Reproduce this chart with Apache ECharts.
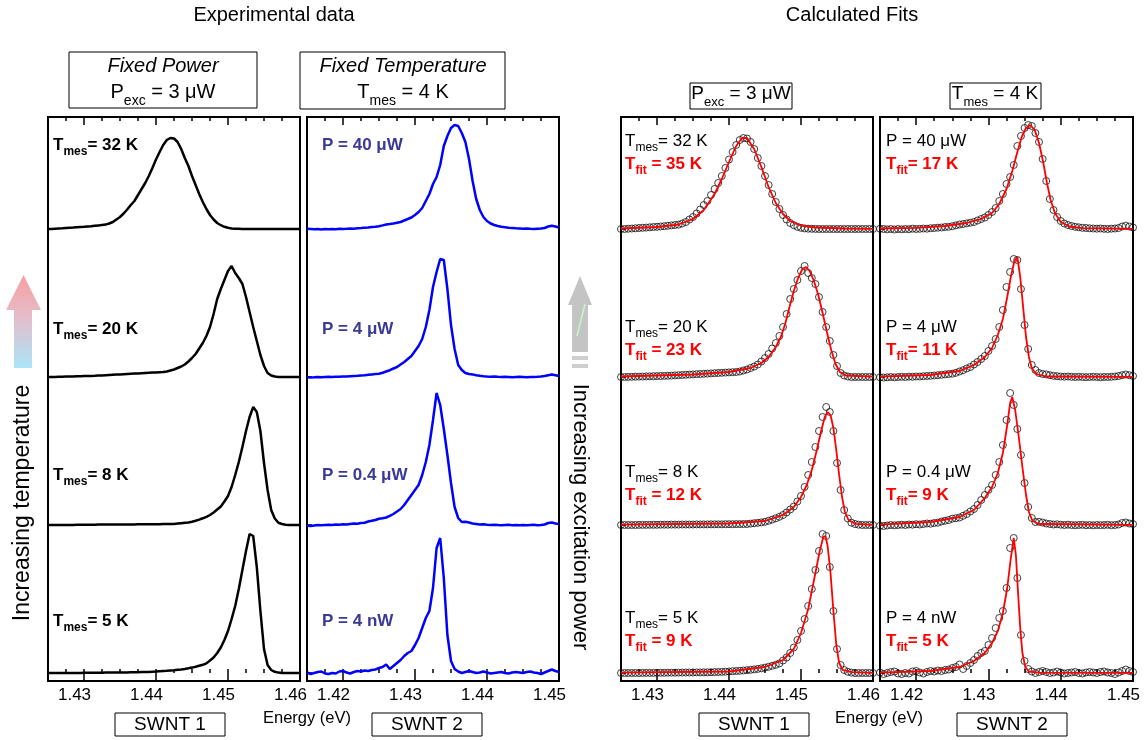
<!DOCTYPE html>
<html><head><meta charset="utf-8">
<script src="https://cdn.jsdelivr.net/npm/echarts@6/dist/echarts.min.js"></script>
<style>html,body{margin:0;padding:0;background:#fff}#chart{width:1147px;height:740px}</style>
</head><body><div id="chart"></div>
<script>
const FONT = '"Liberation Sans", Arial, Helvetica, sans-serif';

// ---------- DATA ----------
const energySWNT1 = [
1.4250,
1.4255,1.4260,1.4265,1.4270,1.4275,1.4280,1.4285,1.4290,1.4295,1.4300,
1.4305,1.4310,1.4315,1.4320,1.4325,1.4330,1.4335,1.4340,1.4345,1.4350,
1.4355,1.4360,1.4365,1.4370,1.4375,1.4380,1.4385,1.4390,1.4395,1.4400,
1.4405,1.4410,1.4415,1.4420,1.4425,1.4430,1.4435,1.4440,1.4445,1.4450,
1.4455,1.4460,1.4465,1.4470,1.4475,1.4480,1.4485,1.4490,1.4495,1.4500,
1.4505,1.4510,1.4515,1.4520,1.4525,1.4530,1.4535,1.4540,1.4545,1.4550,
1.4555,1.4560,1.4565,1.4570,1.4575,1.4580,1.4585,1.4590,1.4595,1.4600];

const energySWNT2 = [
1.4150,
1.4155,1.4160,1.4165,1.4170,1.4175,1.4180,1.4185,1.4190,1.4195,1.4200,
1.4205,1.4210,1.4215,1.4220,1.4225,1.4230,1.4235,1.4240,1.4245,1.4250,
1.4255,1.4260,1.4265,1.4270,1.4275,1.4280,1.4285,1.4290,1.4295,1.4300,
1.4305,1.4310,1.4315,1.4320,1.4325,1.4330,1.4335,1.4340,1.4345,1.4350,
1.4355,1.4360,1.4365,1.4370,1.4375,1.4380,1.4385,1.4390,1.4395,1.4400,
1.4405,1.4410,1.4415,1.4420,1.4425,1.4430,1.4435,1.4440,1.4445,1.4450,
1.4455,1.4460,1.4465,1.4470,1.4475,1.4480,1.4485,1.4490,1.4495,1.4500];

// SWNT 1, fixed power (arb. units)
const swnt1_T32 = [0,
0,0.3,0.5,0.7,1,1.2,1.4,1.7,2,2.2,
2.5,2.8,3.2,3.6,4,4.4,5.5,7,9.5,12,
15.5,19.5,24,28,34,40,46,53,61,69.5,
77,84,89,91,90.5,87,80,71,63,53,
44,35,27,20,14,9.5,6,3.8,2.2,1.2,
0.6,0.3,0.2,0.1,0,0,0,0,0,0,
0,0,0,0,0,0,0,0,0,0];
const swnt1_T20 = [0,
0,0.1,0.2,0.3,0.4,0.5,0.6,0.7,0.8,0.9,
1,1.1,1.2,1.4,1.6,1.8,2,2.2,2.4,2.6,
2.8,3,3.2,3.4,3.6,3.8,4,4.2,4.4,4.6,
4.8,5,5.5,6.5,7.5,9,10.5,12.5,15.5,19,
23,28.5,34,41,50,63,78,88,97,106,
111,104,99,93,80,65,50,36,22,11,
4,1.5,0.5,0,0,0,0,0,0,0];
const swnt1_T8 = [0,
0,0,0,0,0.1,0.1,0.1,0.2,0.2,0.2,
0.3,0.3,0.3,0.4,0.4,0.4,0.5,0.5,0.5,0.5,
0.6,0.6,0.6,0.6,0.7,0.7,0.7,0.7,0.8,0.8,
0.8,0.9,0.9,1,1,1.4,1.8,2.2,2.6,3.2,
4.2,5.4,6.7,8.2,10,12.5,15.5,18.5,23.5,29,
38,50,63,78,94,108,118,113,94,62,
35,15,6.5,2.3,1,0.3,0,0,0,0];
const swnt1_T5 = [0,
0,0,0,0,0,0.1,0.1,0.1,0.1,0.2,
0.2,0.2,0.3,0.3,0.3,0.4,0.4,0.5,0.5,0.5,
0.6,0.6,0.7,0.7,0.8,0.9,1,1.1,1.3,1.5,
1.8,2,2.2,2.5,2.8,3.2,3.6,4.1,4.7,5.4,
6.2,7.2,8.2,9.6,12.5,15.5,20,25.5,33,42,
54,67,84,103,122,139,137,106,62,24,
8,3,1.2,0.4,0,0,0,0,0,0];

// SWNT 2, fixed temperature (arb. units)
const swnt2_P40uW = [0.3,
0,-0.3,0,-0.5,0,-0.3,0,-0.2,0.3,0,
0.2,0.5,0.3,0.8,1,1.3,1.5,2,2.2,2.8,
3.6,4.5,5,5.6,6.3,7,8.5,10,11.5,14,
17,21,28,35,45,52,64,83,93,101,
104,103,96,87,70,48,30,19,12,8,
5.5,4,3,2.2,1.7,1.2,1,0.7,0.5,0.3,
0.5,0.2,0,0.3,0.5,1,2.5,3.3,2.5,1.5];
const swnt2_P4uW = [-0.3,
-0.5,-0.3,0,-0.3,0,0.2,0,0.3,0.2,0.5,
0.5,0.8,1,1.2,1.5,1.8,2.2,2.6,3,3.3,
4.2,5.5,6.8,8.5,10,12.5,15,18,21,26,
31,38,50,67,90,105,118,117,88,52,
28,12,7,4,3,2.6,1.8,1.2,0.8,0.5,
0.3,0.5,0.2,0,0.2,0,-0.2,0,0.2,0,
-0.2,0,0,0.2,0.5,1,1.8,2.5,1.8,1];
const swnt2_P04uW = [-0.8,
-1,-0.5,0,-0.3,0,0.3,0,0.5,0.3,0.8,
0.5,1,1.5,1.3,2,2.3,3.5,4.3,5,6.3,
6.8,7.5,9.2,11,13.5,16,20,25,30,35,
40,50,63,80,105,132,120,96,70,42,
18,7,3,3.2,2.5,1.5,1,0.5,0.7,0.3,
0,0.3,0,-0.2,0,0.2,-0.2,0,-0.3,0,
-0.2,0,0.2,-0.2,0,0.5,2,2.5,1.5,1];
const swnt2_P4nW = [0.5,
-1,0,1,1.5,-0.5,-1,0,-0.5,1.5,2,
0.5,-0.5,1,2,1.5,2.5,2,3,3.5,5,
6,8.5,4,7,10,13,17,20,22,28,
35,45,55,62,85,125,135,95,38,12,
4,1.5,0,1,2,1,0,0.5,1.5,0.5,
-0.5,0,0.5,1,0,-0.5,0.5,1,0.5,0,
1,1.5,0.5,0,-1,0.5,2,3.5,2,1];

// Calculated fits [energy, intensity]
const fitSWNT1_T32 = [[1.4250,0.5],[1.4300,2],[1.4330,4.5],[1.4350,10],[1.4365,19],[1.4380,35],[1.4390,50],[1.4400,67],[1.4410,83],[1.4418,91],[1.4425,91],[1.4435,80],[1.4445,62],[1.4455,42],[1.4465,26],[1.4475,15],[1.4485,8],[1.4500,3.5],[1.4520,1.5],[1.4560,0.5],[1.4600,0.2]];
const fitSWNT1_T20 = [[1.4250,0.5],[1.4350,2.5],[1.4400,5],[1.4430,9],[1.4445,14],[1.4455,20],[1.4465,30],[1.4472,40],[1.4478,53],[1.4484,70],[1.4490,86],[1.4496,99],[1.4502,108],[1.4507,110],[1.4512,106],[1.4518,96],[1.4524,82],[1.4530,64],[1.4536,45],[1.4542,27],[1.4548,13],[1.4554,5],[1.4562,1.5],[1.4600,0.3]];
const fitSWNT1_T8 = [[1.4250,0.3],[1.4400,1.5],[1.4450,4],[1.4475,10],[1.4490,18],[1.4500,28],[1.4508,40],[1.4515,55],[1.4522,75],[1.4528,94],[1.4533,108],[1.4537,113],[1.4541,110],[1.4545,97],[1.4549,75],[1.4553,50],[1.4557,28],[1.4561,13],[1.4566,5],[1.4575,1.2],[1.4600,0.2]];
const fitSWNT1_T5 = [[1.4250,0.3],[1.4400,1.5],[1.4450,6],[1.4475,13],[1.4490,24],[1.4500,40],[1.4510,64],[1.4520,100],[1.4526,122],[1.4531,136],[1.4534,137],[1.4537,127],[1.4541,100],[1.4545,62],[1.4549,28],[1.4553,10],[1.4558,3],[1.4570,0.8],[1.4600,0.2]];
const fitSWNT2_P40uW = [[1.4150,0.5],[1.4200,1.2],[1.4240,3],[1.4270,6],[1.4290,10],[1.4305,16],[1.4315,25],[1.4325,40],[1.4333,58],[1.4340,77],[1.4346,92],[1.4352,101],[1.4358,104],[1.4364,99],[1.4370,86],[1.4376,66],[1.4381,46],[1.4386,29],[1.4392,16],[1.4400,7],[1.4412,2.5],[1.4430,0.8],[1.4500,0.2]];
const fitSWNT2_P4uW = [[1.4150,0.3],[1.4220,2],[1.4260,6],[1.4280,12],[1.4295,20],[1.4305,29],[1.4313,42],[1.4320,58],[1.4326,80],[1.4331,100],[1.4336,116],[1.4340,120],[1.4344,100],[1.4348,70],[1.4352,40],[1.4356,20],[1.4360,9],[1.4366,3],[1.4380,0.5],[1.4500,0.1]];
const fitSWNT2_P04uW = [[1.4150,0.3],[1.4220,3],[1.4260,8],[1.4280,15],[1.4295,27],[1.4305,38],[1.4313,52],[1.4320,72],[1.4326,100],[1.4330,122],[1.4333,128],[1.4337,115],[1.4342,88],[1.4347,58],[1.4352,30],[1.4356,13],[1.4361,4],[1.4370,1],[1.4500,0.1]];
const fitSWNT2_P4nW = [[1.4150,0.3],[1.4220,2],[1.4260,6],[1.4280,12],[1.4295,20],[1.4305,30],[1.4313,42],[1.4320,60],[1.4326,85],[1.4331,115],[1.4335,135],[1.4338,118],[1.4341,80],[1.4344,45],[1.4347,20],[1.4351,6],[1.4356,1.5],[1.4370,0.3],[1.4500,0.1]];

// stacking offsets (top spectrum first) and tick labels
const stackOffsets = [444, 296, 148, 0];
const ticksSWNT1 = [1.43, 1.44, 1.45, 1.46];
const ticksSWNT2 = [1.42, 1.43, 1.44, 1.45];
const tempLabels = ['32 K', '20 K', '8 K', '5 K'];
const tempFitLabels = ['35 K', '23 K', '12 K', '9 K'];
const powerLabels = ['40 μW', '4 μW', '0.4 μW', '4 nW'];
const powerFitLabels = ['17 K', '11 K', '9 K', '5 K'];

// ---------- LAYOUT ----------
const panels = [
  {left: 48,  width: 252, min: 1.425, max: 1.46, majors: ticksSWNT1},
  {left: 307, width: 252, min: 1.415, max: 1.45, majors: ticksSWNT2},
  {left: 621, width: 252, min: 1.425, max: 1.46, majors: ticksSWNT1},
  {left: 880, width: 253, min: 1.415, max: 1.45, majors: ticksSWNT2}
];
const TOP = 117, HEIGHT = 564;

const grids = [], xAxes = [], yAxes = [], series = [];
const tickLine = {color: '#000', width: 1.5};
panels.forEach((p, gi) => {
  grids.push({left: p.left, top: TOP, width: p.width, height: HEIGHT, show: true,
    borderColor: '#000', borderWidth: 2, backgroundColor: 'rgba(0,0,0,0)',
    containLabel: false, outerBoundsMode: 'none'});
  const base = {gridIndex: gi, type: 'value', min: p.min, max: p.max,
    axisLine: {show: false}, splitLine: {show: false}};
  ['bottom', 'top'].forEach(pos => {
    xAxes.push(Object.assign({}, base, {position: pos, interval: 0.0025,
      axisTick: {inside: true, length: 4, lineStyle: tickLine}, axisLabel: {show: false}}));
    xAxes.push(Object.assign({}, base, {position: pos,
      axisTick: {inside: true, length: 8, customValues: p.majors, lineStyle: tickLine},
      axisLabel: pos === 'bottom' ? {show: true, customValues: p.majors, formatter: v => v.toFixed(2),
        margin: 6, fontSize: 17, color: '#000', fontFamily: FONT, padding: [0, 19, 0, 0]} : {show: false}}));
  });
  yAxes.push({gridIndex: gi, type: 'value', min: -8, max: 556, position: 'left',
    axisLine: {show: false}, splitLine: {show: false}, axisLabel: {show: false},
    axisTick: {inside: true, length: 5, customValues: stackOffsets, lineStyle: tickLine}});
});

const swnt1Spectra = [swnt1_T32, swnt1_T20, swnt1_T8, swnt1_T5];
const swnt2Spectra = [swnt2_P40uW, swnt2_P4uW, swnt2_P04uW, swnt2_P4nW];
const swnt1Fits = [fitSWNT1_T32, fitSWNT1_T20, fitSWNT1_T8, fitSWNT1_T5];
const swnt2Fits = [fitSWNT2_P40uW, fitSWNT2_P4uW, fitSWNT2_P04uW, fitSWNT2_P4nW];

function stacked(energy, vals, off) { return energy.map((e, i) => [e, vals[i] + off]); }
function stackedPairs(pairs, off) { return pairs.map(d => [d[0], d[1] + off]); }

function lineSeries(gi, data, color, width, z) {
  return {type: 'line', xAxisIndex: gi * 4, yAxisIndex: gi, data, showSymbol: false, symbol: 'none',
    lineStyle: {color, width}, silent: true, z: z || 2, animation: false, clip: true};
}
function dotSeries(gi, data) {
  return {type: 'scatter', xAxisIndex: gi * 4, yAxisIndex: gi, data, symbol: 'circle', symbolSize: 7,
    itemStyle: {color: 'rgba(255,255,255,0)', borderColor: '#111', borderWidth: 1},
    silent: true, z: 2, animation: false};
}
stackOffsets.forEach((off, r) => {
  series.push(lineSeries(0, stacked(energySWNT1, swnt1Spectra[r], off), '#000', 2.5));
  series.push(lineSeries(1, stacked(energySWNT2, swnt2Spectra[r], off), '#0000ff', 2.5));
  series.push(dotSeries(2, stacked(energySWNT1, swnt1Spectra[r], off)));
  series.push(lineSeries(2, stackedPairs(swnt1Fits[r], off), '#ff0000', 1.8, 3));
  series.push(dotSeries(3, stacked(energySWNT2, swnt2Spectra[r], off)));
  series.push(lineSeries(3, stackedPairs(swnt2Fits[r], off), '#ff0000', 1.8, 3));
});

// ---------- ANNOTATIONS ----------
function richSet(size, subSize, color, weight, pad) {
  return {
    m: {fontSize: size, fontWeight: weight, fill: color, color, fontFamily: FONT},
    i: {fontSize: size, fontWeight: weight, fontStyle: 'italic', fill: color, color, fontFamily: FONT},
    s: {fontSize: subSize, fontWeight: weight, fill: color, color, fontFamily: FONT, padding: [pad, 0, 0, 0]}
  };
}
function txt(x, y, text, rich, align, rotation) {
  return {type: 'text', x, y, rotation: rotation || 0, silent: true, z: 100,
    style: {text, rich, align: align || 'left', textAlign: align || 'left',
      verticalAlign: 'middle', textVerticalAlign: 'middle', fontFamily: FONT, fill: '#000'}};
}
function plain(x, y, text, size, align, rotation, extra) {
  return {type: 'text', x, y, rotation: rotation || 0, silent: true, z: 100,
    style: Object.assign({text, fontSize: size, fontFamily: FONT, fill: '#000',
      align: align || 'center', textAlign: align || 'center', verticalAlign: 'middle', textVerticalAlign: 'middle'}, extra || {})};
}
function box(x, y, w, h) {
  return {type: 'rect', shape: {x, y, width: w, height: h}, silent: true, z: 90,
    style: {fill: 'rgba(0,0,0,0)', stroke: '#000', lineWidth: 1}};
}

const g = [];
g.push(plain(274, 15, 'Experimental data', 20));
g.push(plain(852, 15, 'Calculated Fits', 20));

g.push(box(69, 52, 188, 56));
g.push(plain(163, 66, 'Fixed Power', 20, 'center', 0, {fontStyle: 'italic'}));
g.push(txt(163, 92, '{m|P}{s|exc}{m| = 3 μW}', richSet(20, 14, '#000', 'normal', 18), 'center'));
g.push(box(300, 52, 205, 57));
g.push(plain(403, 66, 'Fixed Temperature', 20, 'center', 0, {fontStyle: 'italic'}));
g.push(txt(403, 92, '{m|T}{s|mes}{m| = 4 K}', richSet(20, 14, '#000', 'normal', 18), 'center'));

g.push(box(690, 83, 102, 26));
g.push(txt(741, 94, '{m|P}{s|exc}{m| = 3 μW}', richSet(19, 13, '#000', 'normal', 16), 'center'));
g.push(box(950, 83, 91, 26));
g.push(txt(995, 94, '{m|T}{s|mes}{m| = 4 K}', richSet(19, 13, '#000', 'normal', 16), 'center'));

[[115, 'SWNT 1'], [372, 'SWNT 2'], [699, 'SWNT 1'], [957, 'SWNT 2']].forEach(b => {
  g.push(box(b[0], 713, 110, 23));
  g.push(plain(b[0] + 55, 725, b[1], 19));
});
g.push(plain(263, 718, 'Energy (eV)', 16.5, 'left'));
g.push(plain(835, 718, 'Energy (eV)', 16.5, 'left'));

// panel labels
const rowY = [145, 329, 475, 621];
const rowY2 = [141, 327, 472, 618];
const blueLbl = '#3a3a96';
rowY.forEach((y, r) => {
  g.push(txt(53, y, '{m|T}{s|mes}{m|= ' + tempLabels[r] + '}', richSet(17, 12, '#000', 'bold', 14)));
  g.push(txt(322, y, '{m|P = ' + powerLabels[r] + '}', richSet(17, 12, blueLbl, 'bold', 14)));
});
rowY2.forEach((y, r) => {
  g.push(txt(625, y, '{m|T}{s|mes}{m|= ' + tempLabels[r] + '}', richSet(17, 12, '#000', 'normal', 14)));
  g.push(txt(625, y + 23, '{m|T}{s|fit}{m| = ' + tempFitLabels[r] + '}', richSet(17, 12, '#ff0000', 'bold', 14)));
  g.push(txt(886, y, '{m|P = ' + powerLabels[r] + '}', richSet(17, 12, '#000', 'normal', 14)));
  g.push(txt(886, y + 23, '{m|T}{s|fit}{m|= ' + powerFitLabels[r] + '}', richSet(17, 12, '#ff0000', 'bold', 14)));
});

// side arrows and texts
g.push({type: 'polygon', silent: true, z: 80,
  shape: {points: [[23.5, 275], [41, 310], [32, 310], [32, 368], [14, 368], [14, 310], [6, 310]]},
  style: {fill: new echarts.graphic.LinearGradient(0, 0, 0, 1, [
    {offset: 0, color: '#f6a0a0'}, {offset: 0.45, color: '#e6bccb'}, {offset: 1, color: '#a9e6f8'}])}});
g.push(plain(23, 503, 'Increasing temperature', 23, 'center', Math.PI / 2));

g.push({type: 'polygon', silent: true, z: 80,
  shape: {points: [[580, 276], [592, 305], [588, 305], [588, 352], [572, 352], [572, 305], [568, 305]]},
  style: {fill: '#c4c4c4'}});
g.push({type: 'rect', silent: true, z: 80, shape: {x: 572, y: 356, width: 16, height: 4}, style: {fill: '#cfcfcf'}});
g.push({type: 'rect', silent: true, z: 80, shape: {x: 572, y: 364, width: 16, height: 4}, style: {fill: '#cfcfcf'}});
g.push({type: 'line', silent: true, z: 81, shape: {x1: 577, y1: 336, x2: 585, y2: 304}, style: {stroke: '#c8f4c8', lineWidth: 1.5}});
g.push(plain(580, 517, 'Increasing excitation power', 22, 'center', -Math.PI / 2));

const chart = echarts.init(document.getElementById('chart'), null, {renderer: 'canvas'});
chart.setOption({
  animation: false,
  backgroundColor: '#fff',
  grid: grids, xAxis: xAxes, yAxis: yAxes, series,
  graphic: {elements: g}
});
</script></body></html>
